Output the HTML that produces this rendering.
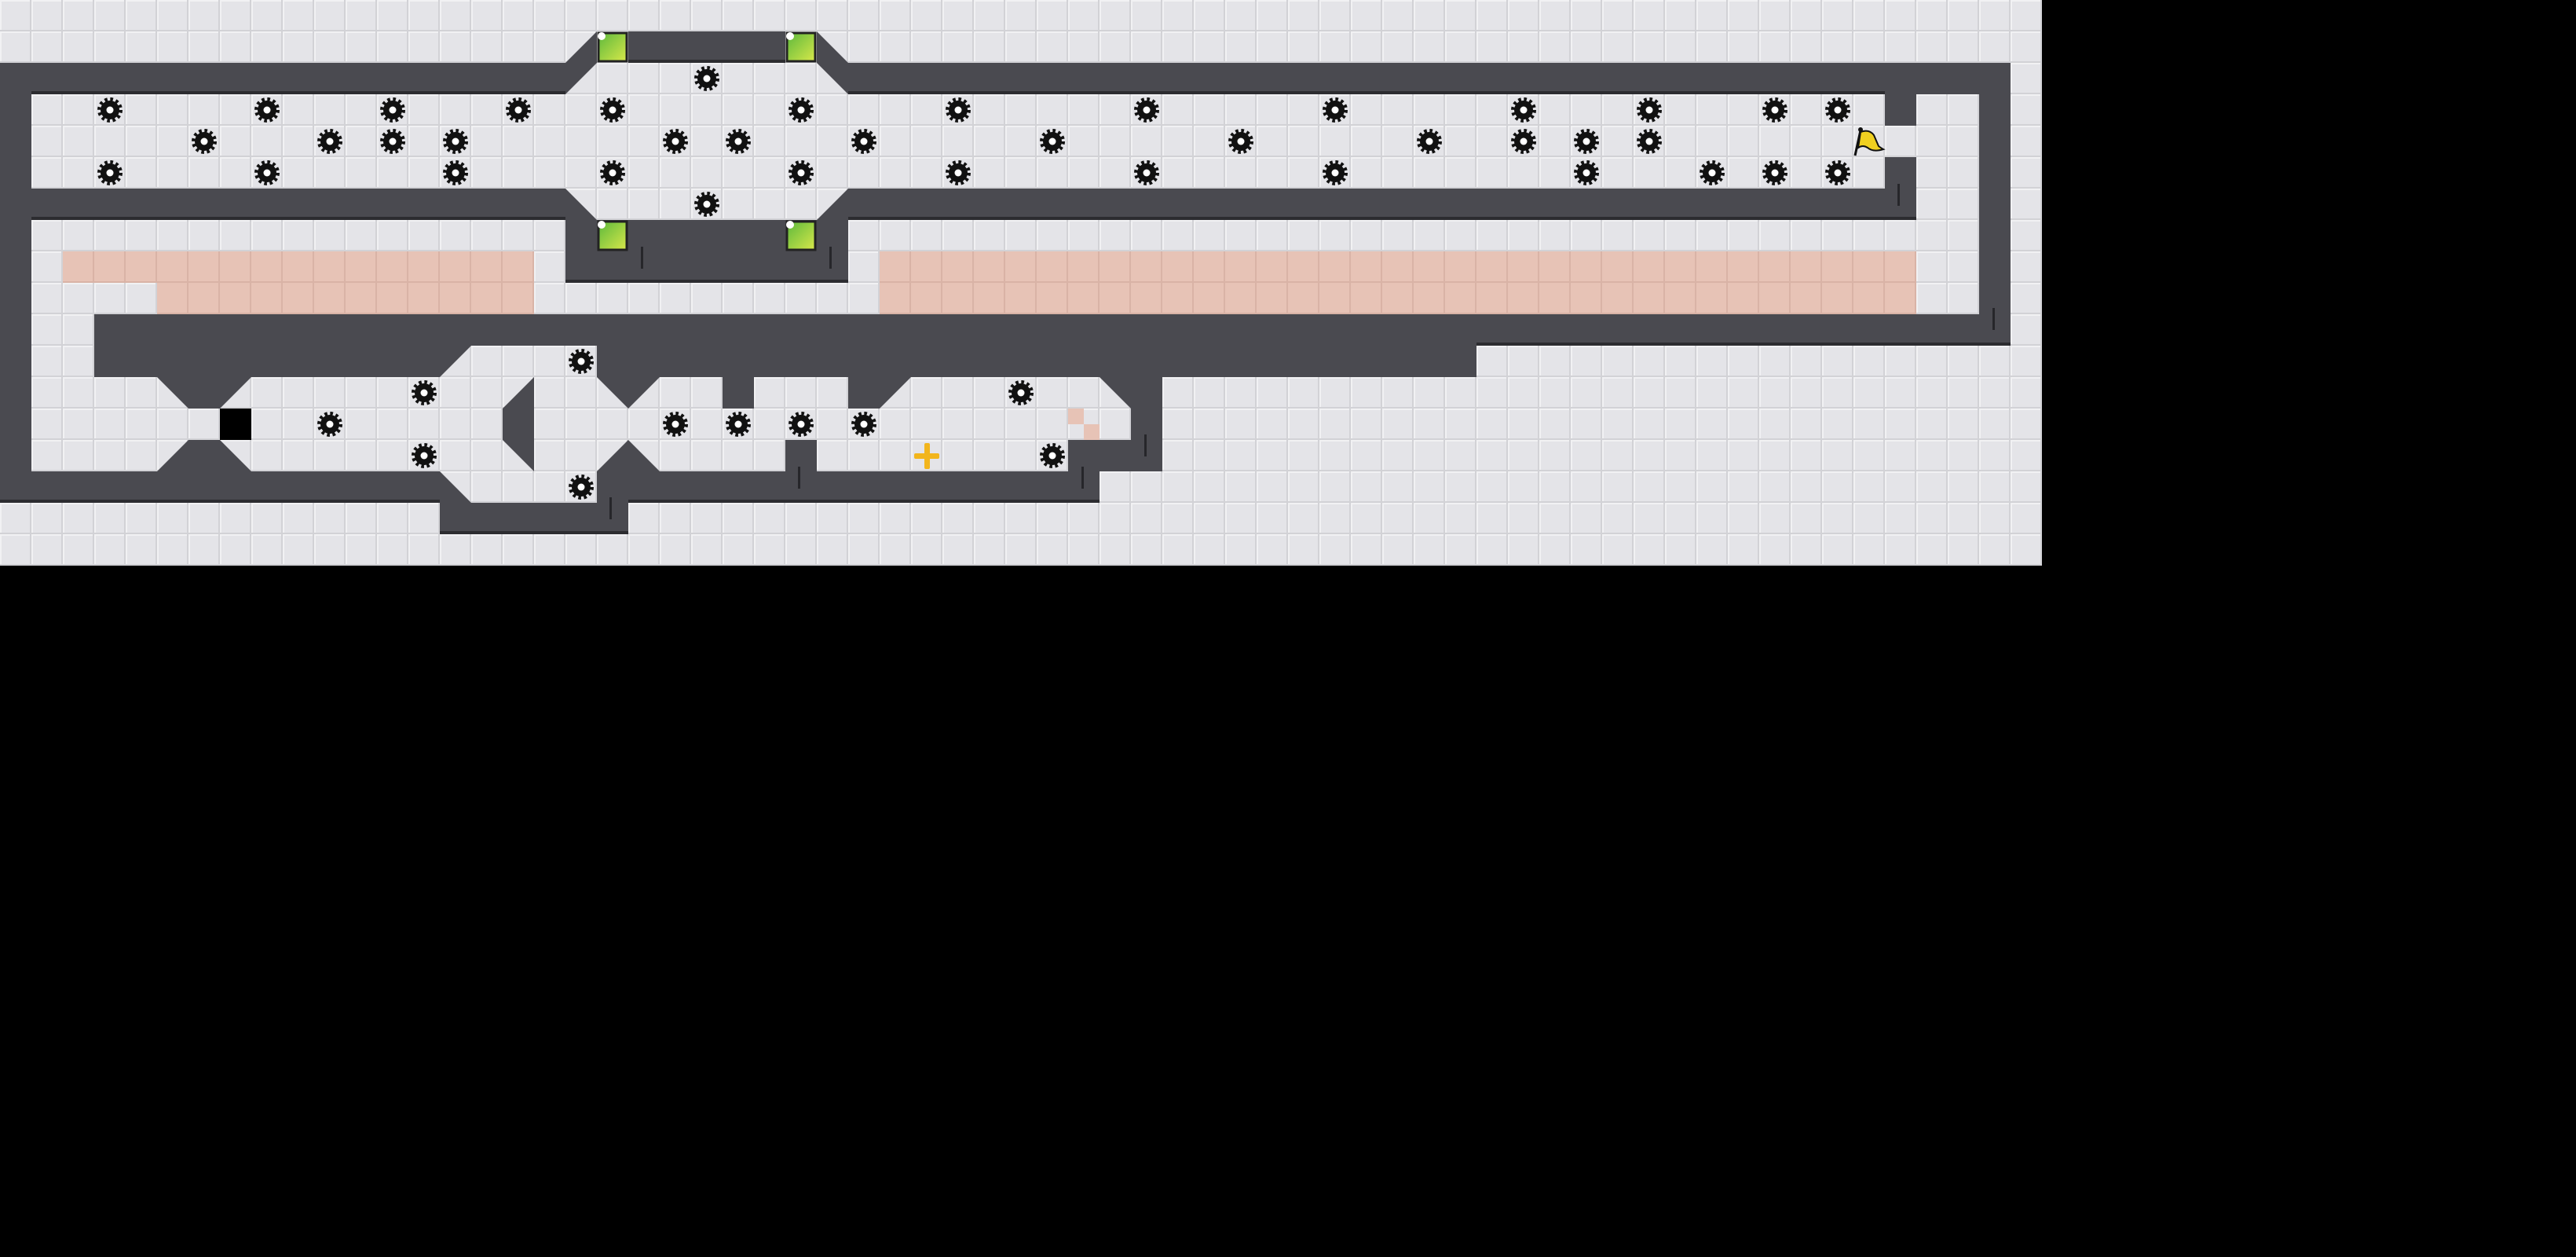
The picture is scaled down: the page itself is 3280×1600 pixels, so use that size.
<!DOCTYPE html>
<html><head><meta charset="utf-8"><style>
html,body{margin:0;padding:0;background:#000;width:3280px;height:1600px;overflow:hidden}
svg{display:block}
</style></head><body>
<svg width="3280" height="1600" xmlns="http://www.w3.org/2000/svg">
<defs>
<pattern id="g" width="40" height="40" patternUnits="userSpaceOnUse">
<rect width="40" height="40" fill="#e4e4e8"/>
<rect x="0" y="0" width="40" height="2" fill="#f1f1f3"/>
<rect x="0" y="0" width="2" height="40" fill="#f1f1f3"/>
<rect x="0" y="38" width="40" height="2" fill="#d2d2d6"/>
<rect x="38" y="0" width="2" height="40" fill="#d2d2d6"/>
</pattern>
<pattern id="p" width="40" height="40" patternUnits="userSpaceOnUse">
<rect width="40" height="40" fill="#e7c3b6"/>
<rect x="0" y="38" width="40" height="2" fill="#d9b3a6"/>
<rect x="38" y="0" width="2" height="40" fill="#d9b3a6"/>
</pattern>
<g id="m">
<circle r="13" fill="none" stroke="#111" stroke-width="6" stroke-dasharray="3.4 3.4"/>
<circle r="12" fill="#111"/>
<circle r="4.5" fill="#fff"/>
</g>
<linearGradient id="gr" x1="0" y1="0" x2="1" y2="1">
<stop offset="0" stop-color="#5cb83c"/><stop offset="1" stop-color="#d8e84a"/>
</linearGradient>
</defs>
<rect width="2600" height="720" fill="url(#g)"/>
<!-- pink -->
<rect x="80" y="320" width="600" height="40" fill="url(#p)"/>
<rect x="200" y="360" width="480" height="40" fill="url(#p)"/>
<rect x="1120" y="320" width="1320" height="80" fill="url(#p)"/>
<rect x="1360" y="520" width="20" height="20" fill="#e7c3b6"/>
<rect x="1380" y="540" width="20" height="20" fill="#e7c3b6"/>
<g fill="#4a4a50">
<rect x="800" y="40" width="200" height="38"/>
<rect x="0" y="80" width="40" height="560"/>
<polygon points="0,80 720,80 760,40 760,80 720,120 0,120"/>
<polygon points="1040,40 1080,80 2560,80 2560,120 1080,120 1040,80"/>
<rect x="2520" y="80" width="40" height="360"/>
<rect x="2400" y="120" width="40" height="40"/>
<rect x="2400" y="200" width="40" height="40"/>
<rect x="0" y="240" width="720" height="40"/>
<polygon points="720,240 760,280 1040,280 1080,240 1080,360 720,360"/>
<rect x="1080" y="240" width="1360" height="40"/>
<rect x="120" y="400" width="2440" height="40"/>
<rect x="120" y="440" width="440" height="40"/>
<polygon points="560,440 600,440 560,480"/>
<rect x="760" y="440" width="1120" height="40"/>
<polygon points="200,480 320,480 280,520 240,520"/>
<polygon points="200,600 240,560 280,560 320,600"/>
<polygon points="760,480 840,480 800,520"/>
<polygon points="760,600 800,560 840,600"/>
<polygon points="680,480 640,520 640,560 680,600"/>
<rect x="920" y="480" width="40" height="40"/>
<rect x="1000" y="560" width="40" height="40"/>
<polygon points="1080,480 1160,480 1120,520 1080,520"/>
<polygon points="1400,480 1440,480 1440,520"/>
<rect x="1440" y="480" width="40" height="120"/>
<rect x="1360" y="560" width="120" height="40"/>
<rect x="0" y="600" width="560" height="40"/>
<polygon points="560,600 600,640 560,640"/>
<rect x="560" y="640" width="240" height="40"/>
<rect x="760" y="600" width="640" height="40"/>
</g>
<!-- shade edges -->
<g fill="#2c2c30">
<rect x="40" y="116" width="680" height="4"/><rect x="1080" y="116" width="1320" height="4"/>
<rect x="40" y="276" width="680" height="4"/><rect x="1080" y="276" width="1360" height="4"/>
<rect x="720" y="356" width="360" height="4"/>
<rect x="1880" y="436" width="680" height="4"/>
<rect x="0" y="636" width="560" height="4"/><rect x="800" y="636" width="600" height="4"/>
<rect x="560" y="676" width="240" height="4"/>
<rect x="800" y="76" width="200" height="4"/>
</g>
<!-- greens -->
<g stroke="#222" stroke-width="3">
<rect x="762" y="42" width="36" height="36" fill="url(#gr)"/>
<rect x="1002" y="42" width="36" height="36" fill="url(#gr)"/>
<rect x="762" y="282" width="36" height="36" fill="url(#gr)"/>
<rect x="1002" y="282" width="36" height="36" fill="url(#gr)"/>
</g>
<g fill="#fff"><circle cx="766" cy="46" r="5"/><circle cx="1006" cy="46" r="5"/><circle cx="766" cy="286" r="5"/><circle cx="1006" cy="286" r="5"/></g>
<!-- ticks -->
<g fill="#26262a">
<rect x="816" y="314" width="3" height="28"/><rect x="1056" y="314" width="3" height="28"/>
<rect x="1016" y="594" width="3" height="28"/><rect x="776" y="633" width="3" height="28"/>
<rect x="2416" y="234" width="3" height="28"/><rect x="2537" y="392" width="3" height="28"/>
<rect x="1457" y="553" width="3" height="28"/><rect x="1377" y="594" width="3" height="28"/>
</g>
<!-- black square -->
<rect x="280" y="520" width="40" height="40" fill="#000"/>
<!-- mines -->
<g>
<use href="#m" x="140" y="140"/><use href="#m" x="340" y="140"/><use href="#m" x="500" y="140"/><use href="#m" x="660" y="140"/><use href="#m" x="780" y="140"/><use href="#m" x="1020" y="140"/><use href="#m" x="1220" y="140"/><use href="#m" x="1460" y="140"/><use href="#m" x="1700" y="140"/><use href="#m" x="1940" y="140"/><use href="#m" x="2100" y="140"/><use href="#m" x="2260" y="140"/><use href="#m" x="2340" y="140"/>
<use href="#m" x="260" y="180"/><use href="#m" x="420" y="180"/><use href="#m" x="500" y="180"/><use href="#m" x="580" y="180"/><use href="#m" x="860" y="180"/><use href="#m" x="940" y="180"/><use href="#m" x="1100" y="180"/><use href="#m" x="1340" y="180"/><use href="#m" x="1580" y="180"/><use href="#m" x="1820" y="180"/><use href="#m" x="1940" y="180"/><use href="#m" x="2020" y="180"/><use href="#m" x="2100" y="180"/>
<use href="#m" x="140" y="220"/><use href="#m" x="340" y="220"/><use href="#m" x="580" y="220"/><use href="#m" x="780" y="220"/><use href="#m" x="1020" y="220"/><use href="#m" x="1220" y="220"/><use href="#m" x="1460" y="220"/><use href="#m" x="1700" y="220"/><use href="#m" x="2020" y="220"/><use href="#m" x="2180" y="220"/><use href="#m" x="2260" y="220"/><use href="#m" x="2340" y="220"/>
<use href="#m" x="900" y="100"/><use href="#m" x="900" y="260"/>
<use href="#m" x="740" y="460"/>
<use href="#m" x="540" y="500"/><use href="#m" x="1300" y="500"/>
<use href="#m" x="420" y="540"/><use href="#m" x="860" y="540"/><use href="#m" x="940" y="540"/><use href="#m" x="1020" y="540"/><use href="#m" x="1100" y="540"/>
<use href="#m" x="540" y="580"/><use href="#m" x="1340" y="580"/>
<use href="#m" x="740" y="620"/>
</g>
<!-- cross -->
<g fill="#f2b51c">
<rect x="1164" y="577" width="32" height="7" rx="2"/>
<rect x="1177" y="564" width="7" height="33" rx="2"/>
</g>
<!-- flag -->
<line x1="2362" y1="198" x2="2369" y2="166" stroke="#111" stroke-width="3"/>
<circle cx="2369" cy="165" r="3" fill="#111"/>
<path d="M2369 168 Q2380 164 2386 172 L2392 186 Q2396 189 2398 190 Q2385 194 2378 188 Q2372 184 2366 188 Z" fill="#f0d020" stroke="#111" stroke-width="2"/>
</svg>
</body></html>
